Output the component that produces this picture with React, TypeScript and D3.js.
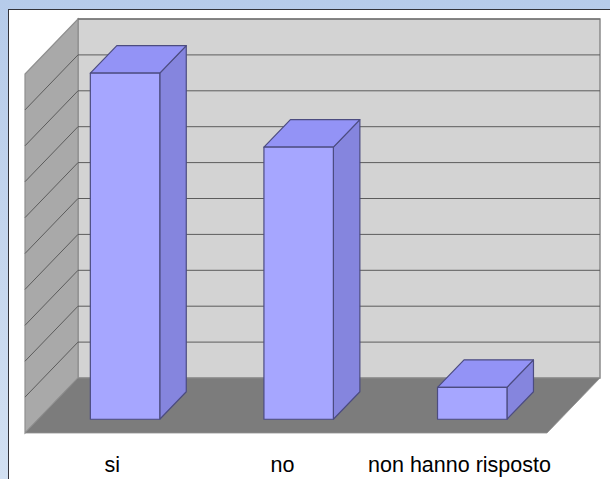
import React from "react";
import * as d3 from "d3";

const categories = ["si", "no", "non hanno risposto"];
const values = [96.4, 75.8, 8.9];
const labelNudges = [0.5, -3, 0.5];
const gridTicks = [0, 10, 20, 30, 40, 50, 60, 70, 80, 90, 100];

const W = 610, H = 479;
const frontLeft = 25, frontRight = 547, floorFront = 433;
const depthX = 53, depthY = 55;
const plotTop = 74; // front-plane y for the maximum
const y = d3.scaleLinear().domain([0, 100]).range([floorFront, plotTop]);
const x = d3.scaleBand<string>().domain(categories).range([frontLeft, 545.8]).paddingInner(0.6).paddingOuter(0.3);
const line = d3.line<[number, number]>();
const poly = (p: [number, number][]) => line(p)! + "Z";

const barEdge = "#4c4c80";
const grid = "#5c5c5c";

export default function App() {
  const bw = x.bandwidth();
  const back = (v: number) => y(v) - depthY;
  const bx = depthX;
  const q = depthX / 4, qy = depthY / 4;
  return (
    <svg width={W} height={H} style={{ position: "absolute", left: 0, top: 0, display: "block" }}>
      <defs>
        <linearGradient id="pg" x1="0" y1="0" x2="0" y2="1">
          <stop offset="0" stopColor="#b6cbea" />
          <stop offset="1" stopColor="#d2e0f2" />
        </linearGradient>
      </defs>
      <rect width={W} height={H} fill="url(#pg)" />
      <rect x={8.5} y={9.5} width={W} height={H} fill="#fff" stroke="#33333a" strokeWidth={1} />
      {/* back wall */}
      <rect x={frontLeft + bx} y={back(100)} width={frontRight - frontLeft} height={y(0) - y(100)} fill="#d3d3d3" stroke="#8a8a8a" strokeWidth={1.5} />
      {/* left wall */}
      <path d={poly([[frontLeft, y(0)], [frontLeft + bx, back(0)], [frontLeft + bx, back(100)], [frontLeft, y(100)]])} fill="#a9a9a9" stroke="#8f8f8f" strokeWidth={1.2} />
      {/* floor */}
      <path d={poly([[frontLeft, y(0)], [frontLeft + bx, back(0)], [frontRight + bx, back(0)], [frontRight, y(0)]])} fill="#7c7c7c" stroke="#8f8f8f" strokeWidth={0.8} />
      {gridTicks.filter(t => t > 0 && t < 100).map(t => (
        <path key={t} d={line([[frontLeft, y(t)], [frontLeft + bx, back(t)], [frontRight + bx, back(t)]])!} fill="none" stroke={grid} strokeWidth={1} />
      ))}
      <line x1={frontLeft + bx} x2={frontRight + bx} y1={back(100)} y2={back(100)} stroke="#666" strokeWidth={1.2} />
      {/* bars */}
      {categories.map((c, i) => {
        const v = values[i];
        const l = x(c)! + q, r = l + bw;
        const bot = y(0) - qy, top = y(v) - qy;
        const dx = depthX / 2, dy = depthY / 2;
        return (
          <g key={c} stroke={barEdge} strokeWidth={1.2} strokeLinejoin="round">
            <path d={poly([[r, bot], [r + dx, bot - dy], [r + dx, top - dy], [r, top]])} fill="#8585de" />
            <path d={poly([[l, top], [l + dx, top - dy], [r + dx, top - dy], [r, top]])} fill="#9393f6" />
            <rect x={l} y={top} width={bw} height={bot - top} fill="#a6a6ff" />
          </g>
        );
      })}
      {categories.map((c, i) => (
        <text key={c} x={x(c)! + bw / 2 + labelNudges[i]} y={472} textAnchor="middle" fontFamily="Liberation Sans, Arial, sans-serif" fontSize={21.5} fill="#000">{c}</text>
      ))}
    </svg>
  );
}
